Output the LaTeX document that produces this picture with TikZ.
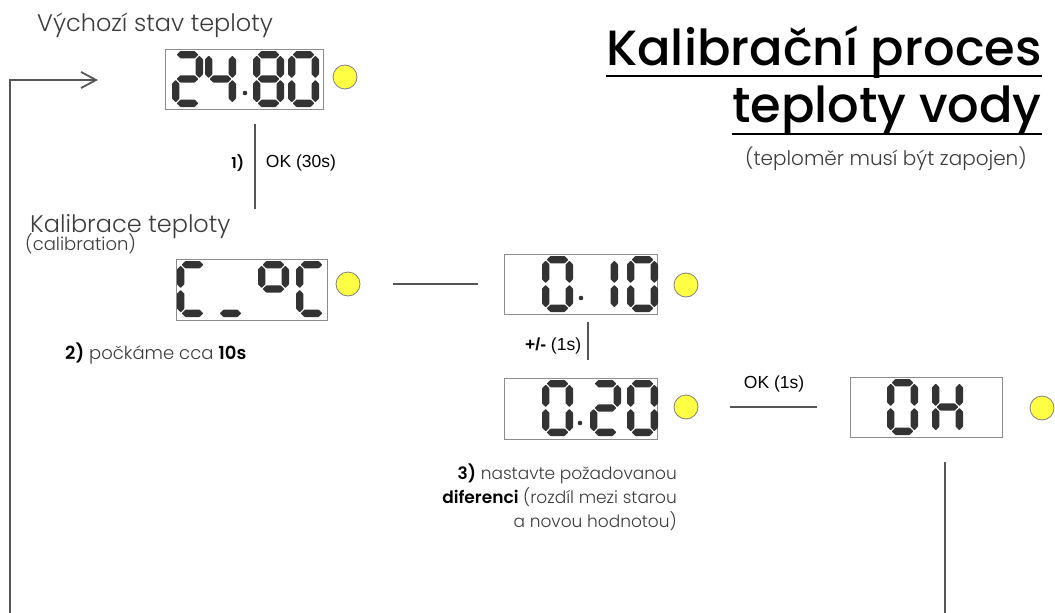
\documentclass[tikz,border=0pt]{standalone}
\usepackage{fontspec}
\setmainfont{Poppins}
\newfontfamily\lightfont{Poppins Light}
\newfontfamily\semifont{Poppins SemiBold}
\newfontfamily\titlefont{Poppins Medium}
\newfontfamily\arialfont{Liberation Sans}
\usetikzlibrary{positioning, calc, arrows.meta}
\definecolor{S}{HTML}{333333}
\definecolor{L}{HTML}{555555}
\definecolor{Y}{HTML}{FFFF44}
\definecolor{B}{HTML}{8C8C8C}
\definecolor{T}{HTML}{3C3C3C}

% one segment of a seven-segment digit
\def\segw{3.7}
\newcommand\hseg[3]{\fill[S, rounded corners=0.6pt] (#1,#3) -- (#1+\segw,#3-\segw) -- (#2-\segw,#3-\segw)
  -- (#2,#3) -- (#2-\segw,#3+\segw) -- (#1+\segw,#3+\segw) -- cycle;}
\newcommand\vseg[3]{\fill[S, rounded corners=0.6pt] (#1,#2) -- (#1+\segw,#2+\segw) -- (#1+\segw,#3-\segw)
  -- (#1,#3) -- (#1-\segw,#3-\segw) -- (#1-\segw,#2+\segw) -- cycle;}
\newcommand\segA[2]{\hseg{#1+\segw+1}{#1+31-\segw-1}{#2+\segw}}
\newcommand\segG[2]{\hseg{#1+\segw+1}{#1+31-\segw-1}{#2+28}}
\newcommand\segD[2]{\hseg{#1+\segw+1}{#1+31-\segw-1}{#2+56-\segw}}
\newcommand\segF[2]{\vseg{#1+\segw}{#2+\segw+1}{#2+27}}
\newcommand\segB[2]{\vseg{#1+31-\segw}{#2+\segw+1}{#2+27}}
\newcommand\segE[2]{\vseg{#1+\segw}{#2+29}{#2+56-\segw-1}}
\newcommand\segC[2]{\vseg{#1+31-\segw}{#2+29}{#2+56-\segw-1}}
\newcommand\segdigit[3]{\foreach \s in {#3}{\csname seg\s\endcsname{#1}{#2}}}

\begin{document}
\begin{tikzpicture}[x=1pt, y=-1pt,
    lcd/.style={draw=B, line width=0.6pt, inner sep=0pt},
    lamp/.style={circle, draw=gray, line width=0.8pt, fill=Y, minimum size=24pt, inner sep=0pt},
    flow/.style={draw=L, line width=1.8pt},
    lbl/.style={text=T, inner sep=0pt, font=\lightfont\fontsize{24}{28}\selectfont},
    note/.style={text=T, inner sep=0pt, font=\lightfont\fontsize{18}{24}\selectfont},
    key/.style={text=black, inner sep=0pt, font=\arialfont\fontsize{17.5}{20}\selectfont},
    title/.style={text=black, inner sep=0pt, font=\titlefont\fontsize{49.5}{52}\selectfont}]
  \useasboundingbox (0,0) rectangle (1055,613);

  % titles
  \node[title, anchor=base east] (t1) at (1042,65) {Kalibrační proces};
  \node[title, anchor=base east] (t2) at (1042,122) {teploty vody};
  \draw[black, line width=2pt] ($(t1.base west)+(0,11)$) -- ($(t1.base east)+(0,11)$);
  \draw[black, line width=2pt] ($(t2.base west)+(0,12)$) -- ($(t2.base east)+(0,12)$);
  \node[note, anchor=base east, font=\lightfont\fontsize{20}{24}\selectfont] (t3) at (1027,165) {(teploměr musí být zapojen)};

  % displays
  \node[lcd, minimum width=158pt, minimum height=60pt] (d1) at (244,79) {};
  \node[lamp] (c1) at (345,77) {};
  \segdigit{172}{51}{A,B,G,E,D}
  \segdigit{205}{51}{F,G,B,C}
  \segdigit{253}{51}{A,B,C,D,E,F,G}
  \segdigit{288}{51}{A,B,C,D,E,F}
  \fill[S] (245,93) circle (2.3);

  \node[lcd, minimum width=151pt, minimum height=61pt] (d2) at (251.5,289.5) {};
  \node[lamp] (c2) at (348,284) {};
  \segdigit{177}{261}{A,F,E,D}
  \segdigit{215}{261}{D}
  \segdigit{258}{261}{A,B,F,G}
  \segdigit{296}{261}{A,F,E,D}

  \node[lcd, minimum width=153pt, minimum height=60pt] (d3) at (580.5,284) {};
  \node[lamp] (c3) at (686,285) {};
  \segdigit{542}{256}{A,B,C,D,E,F}
  \segdigit{587}{256}{B,C}
  \segdigit{627}{256}{A,B,C,D,E,F}
  \fill[S] (581,298) circle (2.3);

  \node[lcd, minimum width=153pt, minimum height=61pt] (d4) at (580.5,408.5) {};
  \node[lamp] (c4) at (686,407) {};
  \segdigit{542}{380}{A,B,C,D,E,F}
  \segdigit{590}{380}{A,B,G,E,D}
  \segdigit{627}{380}{A,B,C,D,E,F}
  \fill[S] (580,423) circle (2.3);

  \node[lcd, minimum width=152pt, minimum height=60pt] (d5) at (926,407) {};
  \node[lamp] (c5) at (1042,408) {};
  \segdigit{887}{379}{A,B,C,D,E,F}
  \segdigit{932}{379}{F,E,B,C,G}

  % texts
  \node[lbl, anchor=base west] (n1) at (37,31) {Výchozí stav teploty};
  \node[lbl, anchor=base west] (n2) at (30,232) {Kalibrace teploty};
  \node[note, anchor=base west] (n3) at (25,250) {(calibration)};
  \node[note, anchor=base west] (n4) at (65,359) {{\semifont\color{black}2)} počkáme cca {\semifont\color{black}10s}};
  \tikzset{step3/.style={note, anchor=base east, font=\lightfont\fontsize{17}{24}\selectfont}}
  \node[step3] (n5) at (677,479) {{\semifont\color{black}3)} nastavte požadovanou};
  \node[step3] (n6) at (677,503) {{\semifont\color{black}diferenci} (rozdíl mezi starou};
  \node[step3] (n7) at (677,527) {a novou hodnotou)};

  % connectors
  \draw[flow] ($(d1.south)+(11,15)$) -- ++(0,85)
    node[pos=.45, left=10pt, note, font=\semifont\fontsize{15}{18}\selectfont, text=black] {1)}
    node[pos=.45, right=10pt, key] {OK (30s)};
  \draw[flow, shorten <=33pt, shorten >=26pt] (c2.east) -- (c2.east -| d3.west);
  \draw[flow, shorten <=8pt, shorten >=18pt] ($(d3.south)+(7.5,0)$) -- ($(d4.north)+(7.5,0)$)
    node[midway, left=6pt, key] {\textbf{+/-} (1s)};
  \draw[flow, shorten <=32pt, shorten >=33pt] (c4.east) -- (c4.east -| d5.west)
    node[midway, above=14pt, key] {OK (1s)};

  % return path
  \coordinate (loop) at (10,613);
  \coordinate (back) at (98,80);
  \draw[flow] ($(d5.south)+(19,25)$) -- ++(0,151);
  \draw[flow, -{Straight Barb[length=15pt, width=16pt]}] (loop) |- (back);
\end{tikzpicture}
\end{document}
